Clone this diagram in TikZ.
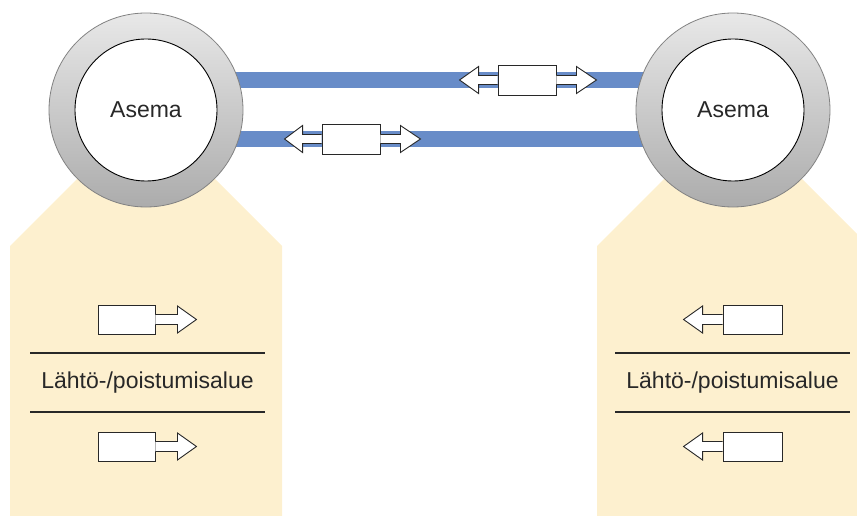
\documentclass[tikz,border=0pt]{standalone}
\usepackage{fontspec}
\setmainfont{Liberation Sans}
\definecolor{zonefill}{RGB}{253,240,207}
\definecolor{barblue}{RGB}{104,140,200}
\definecolor{ringtop}{RGB}{232,232,232}
\definecolor{ringbot}{RGB}{172,172,172}
\definecolor{ringline}{RGB}{130,130,130}
\definecolor{inkdark}{RGB}{40,40,40}
\tikzset{
  zone/.style={fill=zonefill},
  bar/.style={draw=barblue, line width=16.5pt},
  ring/.style={circle, minimum size=194pt, inner sep=0pt, draw=ringline, line width=0.8pt,
    top color=ringtop, bottom color=ringbot},
  hub/.style={circle, minimum size=142pt, inner sep=0pt, draw=black, line width=0.9pt, fill=white,
    font=\fontsize{23}{27}\selectfont, text=inkdark},
  carbox/.style={rectangle, minimum width=58pt, minimum height=30pt, inner sep=0pt,
    draw=inkdark, line width=0.9pt, fill=white},
  blockarrow/.style={draw=inkdark, line width=0.9pt, fill=white, line join=miter},
  zonelabel/.style={font=\fontsize{23}{27}\selectfont, text=inkdark, inner sep=0pt},
  divider/.style={draw=inkdark, line width=1.5pt}
}
% block arrow head hanging off a box side: anchor, shaft length, head length, shaft half-height
\newcommand\blockhead[4]{%
  \filldraw[blockarrow] (#1) ++(0,-#4) -- ++(#2,0) -- ++(0,{-(13.5-#4)}) -- ++(#3,13.5)
    -- ++({-(#3)},13.5) -- ++(0,{-(13.5-#4)}) -- ++({-(#2)},0);}
\begin{document}
\begin{tikzpicture}[x=1pt,y=-1pt]
\useasboundingbox (0,0) rectangle (857,516);

% departure / exit zones below the stations
\fill[zone] (10,516) -- (10,246) -- (146,110) -- (282,246) -- (282,516) -- cycle;
\fill[zone] (597,516) -- (597,246) -- (733,110) -- (857,234) -- (857,516) -- cycle;

% track ends
\coordinate (ta) at (146,80);  \coordinate (tb) at (733,80);
\coordinate (ba) at (146,139); \coordinate (bb) at (733,139);
\draw[bar] (ta) -- (tb);
\draw[bar] (ba) -- (bb);

% stations
\node[ring] (ringL) at (146,110) {};
\node[hub]  (stL)   at (146,110) {Asema};
\node[ring] (ringR) at (733,110) {};
\node[hub]  (stR)   at (733,110) {Asema};

% vehicles on the tracks
\node[carbox] (vTop) at (527,80) {};
\blockhead{vTop.west}{-19}{-19}{4.5}
\blockhead{vTop.east}{20}{20}{4.5}
\node[carbox] (vBot) at (351,139) {};
\blockhead{vBot.west}{-19}{-18}{4.5}
\blockhead{vBot.east}{20}{20}{4.5}

% left zone
\node[carbox, minimum width=57pt, minimum height=29pt] (lA) at (126.5,319.5) {};
\blockhead{lA.east}{22}{19}{5}
\node[zonelabel] (labL) at (147.5,383) {Lähtö-/poistumisalue};
\draw[divider] (labL.center) ++(-117.5,-30) -- ++(235,0);
\draw[divider] (labL.center) ++(-117.5,29) -- ++(235,0);
\node[carbox, minimum width=57pt, minimum height=29pt] (lB) at (126.5,446.5) {};
\blockhead{lB.east}{22}{19}{5}

% right zone
\node[carbox, minimum width=59pt, minimum height=29pt] (rA) at (752.5,319.5) {};
\blockhead{rA.west}{-20}{-19}{5}
\node[zonelabel] (labR) at (732.5,383) {Lähtö-/poistumisalue};
\draw[divider] (labR.center) ++(-117.5,-30) -- ++(235,0);
\draw[divider] (labR.center) ++(-117.5,29) -- ++(235,0);
\node[carbox, minimum width=59pt, minimum height=29pt] (rB) at (752.5,446.5) {};
\blockhead{rB.west}{-20}{-19}{5}
\end{tikzpicture}
\end{document}
